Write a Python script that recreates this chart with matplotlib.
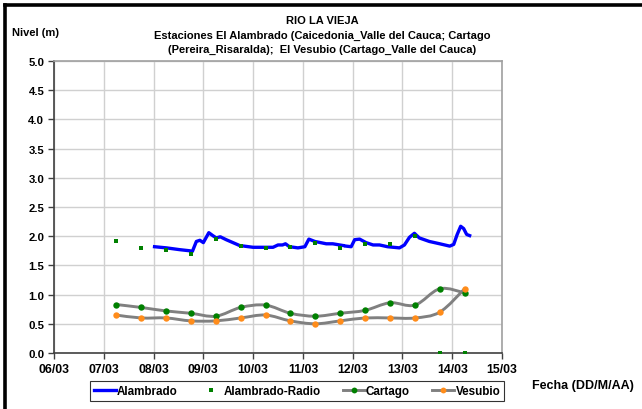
import numpy as np
import matplotlib
matplotlib.use('Agg')
import matplotlib.pyplot as plt
from matplotlib.path import Path
from matplotlib.patches import PathPatch
from matplotlib.lines import Line2D

plt.rcParams['font.family'] = ['Liberation Sans', 'DejaVu Sans']
plt.rcParams['font.weight'] = 'bold'

# === data (day of March) ===
alam_t = [8.02, 8.26, 8.52, 8.73, 8.78, 8.86, 8.93, 9.00, 9.11, 9.19, 9.26, 9.34,
          9.46, 9.73, 10.00, 10.27, 10.40, 10.50, 10.59, 10.65, 10.73, 10.90, 11.04,
          11.12, 11.24, 11.47, 11.60, 11.81, 11.84, 11.87, 11.97, 12.04, 12.14, 12.27,
          12.41, 12.54, 12.70, 12.94, 13.04, 13.14, 13.24, 13.34, 13.54, 13.75, 13.95,
          14.03, 14.10, 14.17, 14.23, 14.29, 14.35]
alam_v = [1.82, 1.80, 1.77, 1.75, 1.74, 1.91, 1.93, 1.89, 2.06, 2.01, 1.97, 1.99,
          1.94, 1.84, 1.81, 1.81, 1.81, 1.85, 1.85, 1.87, 1.82, 1.80, 1.82,
          1.95, 1.91, 1.87, 1.87, 1.84, np.nan, 1.83, 1.82, 1.94, 1.95, 1.89,
          1.85, 1.85, 1.82, 1.80, 1.85, 1.98, 2.05, 1.97, 1.91, 1.87, 1.83,
          1.86, 2.03, 2.17, 2.13, 2.03, 2.01]

st_t = [7.25, 7.75, 8.25, 8.75, 9.25, 9.75, 10.25, 10.75, 11.25, 11.75,
        12.25, 12.75, 13.25, 13.75, 14.25]
radio_v = [1.92, 1.80, 1.76, 1.70, 1.96, 1.83, 1.79, 1.82, 1.88, 1.80,
           1.87, 1.86, 2.01, 0.0, 0.0]
cartago_v = [0.83, 0.78, 0.72, 0.68, 0.63, 0.78, 0.82, 0.68, 0.63, 0.68,
             0.73, 0.86, 0.82, 1.10, 1.03]
vesubio_v = [0.65, 0.60, 0.60, 0.55, 0.55, 0.60, 0.65, 0.55, 0.50, 0.55,
             0.60, 0.60, 0.60, 0.70, 1.10]

day_ticks = list(range(6, 16))
day_labels = ['06/03', '07/03', '08/03', '09/03', '10/03', '11/03', '12/03',
              '13/03', '14/03', '15/03']
title_lines = ['RIO LA VIEJA',
               'Estaciones El Alambrado (Caicedonia_Valle del Cauca; Cartago',
               '(Pereira_Risaralda);  El Vesubio (Cartago_Valle del Cauca)']

BLUE = '#0000FF'
GREEN = '#008000'
ORANGE = '#FF8C1A'
GREY = '#808080'


def smooth_path(x, y):
    # Excel-style smoothed line: cubic bezier through the points
    pts = np.column_stack([x, y])
    verts = [pts[0]]
    codes = [Path.MOVETO]
    n = len(pts)
    for i in range(n - 1):
        p0 = pts[i - 1] if i > 0 else pts[i]
        p1 = pts[i]
        p2 = pts[i + 1]
        p3 = pts[i + 2] if i + 2 < n else pts[i + 1]
        verts += [p1 + (p2 - p0) / 6, p2 - (p3 - p1) / 6, p2]
        codes += [Path.CURVE4] * 3
    return Path(verts, codes)


fig = plt.figure(figsize=(6.42, 4.10), dpi=100, facecolor='white')
ax = fig.add_axes([54 / 642, 1 - 354 / 410, 448 / 642, 292 / 410])

ax.plot(alam_t, alam_v, color=BLUE, lw=2.4, zorder=4)
for vals, mc in [(cartago_v, GREEN), (vesubio_v, ORANGE)]:
    ax.add_patch(PathPatch(smooth_path(st_t, vals), facecolor='none',
                           edgecolor=GREY, lw=2.1, zorder=3))
    ax.plot(st_t, vals, ls='none', marker='o', ms=4.6, mew=0, color=mc, zorder=5)
ax.plot(st_t, radio_v, ls='none', marker='s', ms=2.4, mew=0, color=GREEN, zorder=6)

ax.set_xlim(6, 15)
ax.set_ylim(0, 5)
ax.set_xticks(day_ticks)
ax.set_xticklabels(day_labels, fontsize=8.8, fontweight='bold')
yt = np.arange(0, 5.01, 0.5)
ax.set_yticks(yt)
ax.set_yticklabels([f'{v:.1f}' for v in yt], fontsize=8.2, fontweight='bold')
ax.tick_params(length=4, width=1, color='#404040')
ax.tick_params(axis='x', pad=3)
ax.tick_params(axis='y', pad=3)
ax.grid(True, color='#D0D0D0', lw=1)
ax.set_axisbelow(True)
for s in ['top', 'right']:
    ax.spines[s].set_color('#A0A0A0')
    ax.spines[s].set_linewidth(1.2)
for s in ['left', 'bottom']:
    ax.spines[s].set_color('#404040')
    ax.spines[s].set_linewidth(1.2)

for txt, yc in zip(title_lines, [21, 36, 50]):
    fig.text(322 / 642, 1 - yc / 410, txt, ha='center', va='center',
             fontsize=8, fontweight='bold')
fig.text(12 / 642, 1 - 33 / 410, 'Nivel (m)', ha='left', va='center',
         fontsize=8, fontweight='bold')
fig.text(532 / 642, 1 - 386 / 410, 'Fecha (DD/M/AA)', ha='left', va='center',
         fontsize=9, fontweight='bold')

handles = [Line2D([], [], color=BLUE, lw=2.4),
           Line2D([], [], ls='none', marker='s', ms=2.4, mew=0, color=GREEN),
           Line2D([], [], color=GREY, lw=2.1, marker='o', ms=4.2, mew=0, mfc=GREEN),
           Line2D([], [], color=GREY, lw=2.1, marker='o', ms=4.2, mew=0, mfc=ORANGE)]
leg = fig.legend(handles, ['Alambrado', 'Alambrado-Radio', 'Cartago', 'Vesubio'],
                 loc='center', bbox_to_anchor=(297 / 642, 1 - 392 / 410), ncol=4,
                 frameon=True, fancybox=False, handlelength=1.9,
                 handletextpad=0.1, columnspacing=1.9, borderpad=0.35,
                 borderaxespad=0, prop={'weight': 'bold', 'size': 8.4})
leg.get_frame().set_edgecolor('black')
leg.get_frame().set_linewidth(0.8)

# outer frame (left and top edges visible)
fig.add_artist(Line2D([5.5 / 642, 5.5 / 642], [0, 1 - 5.5 / 410], color='black', lw=2.6))
fig.add_artist(Line2D([5.5 / 642, 1], [1 - 5.5 / 410, 1 - 5.5 / 410], color='black', lw=2.6))

fig.savefig('out.png', dpi=100, facecolor='white')
